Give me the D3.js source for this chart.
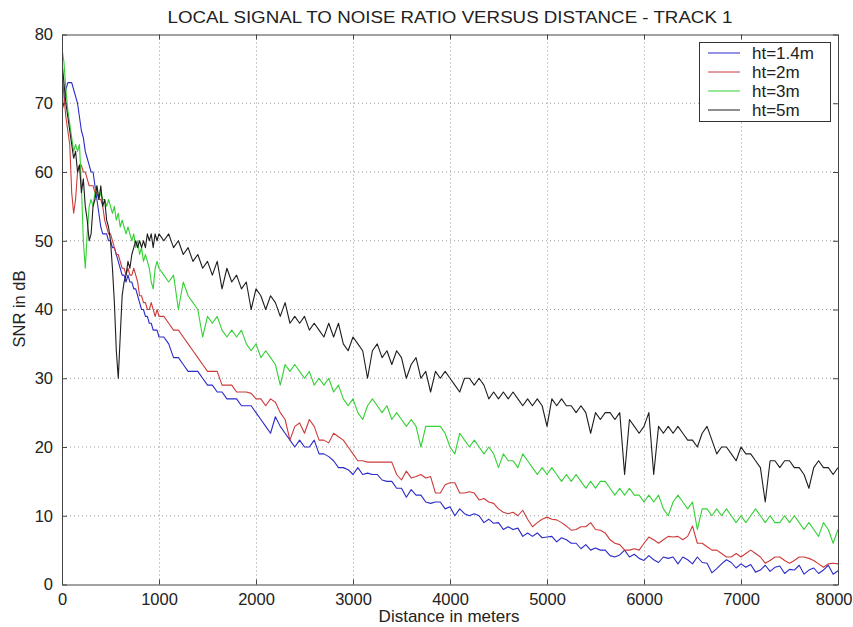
<!DOCTYPE html>
<html>
<head>
<meta charset="utf-8">
<script src="https://cdn.jsdelivr.net/npm/d3@7"></script>
<style>
  body { margin: 0; background: #fff; }
  svg { display: block; font-family: "Liberation Sans", Arial, Helvetica, sans-serif; }
  .grid line { stroke: #9a9a9a; stroke-dasharray: 1,3; }
  .axis path, .axis line { stroke: #444; }
  .axis text { font-size: 16.5px; fill: #222; }
  .legend text { font-size: 17px; fill: #222; }
</style>
</head>
<body>
<div id="chart"></div>
<script>
// distance along the track (m) - denser sampling over the first kilometre
const distance = [
  0, 20, 40, 60, 80, 100, 120, 140, 160, 180,
  200, 220, 240, 260, 280, 300, 320, 340, 360, 380,
  400, 420, 440, 460, 480, 500, 520, 540, 560, 580,
  600, 620, 640, 660, 680, 700, 720, 740, 760, 780,
  800, 820, 840, 860, 880, 900, 920, 940, 960, 980,
  1000,
  1050, 1100, 1150, 1200, 1250, 1300, 1350, 1400, 1450, 1500,
  1550, 1600, 1650, 1700, 1750, 1800, 1850, 1900, 1950, 2000,
  2050, 2100, 2150, 2200, 2250, 2300, 2350, 2400, 2450, 2500,
  2550, 2600, 2650, 2700, 2750, 2800, 2850, 2900, 2950, 3000,
  3050, 3100, 3150, 3200, 3250, 3300, 3350, 3400, 3450, 3500,
  3550, 3600, 3650, 3700, 3750, 3800, 3850, 3900, 3950, 4000,
  4050, 4100, 4150, 4200, 4250, 4300, 4350, 4400, 4450, 4500,
  4550, 4600, 4650, 4700, 4750, 4800, 4850, 4900, 4950, 5000,
  5050, 5100, 5150, 5200, 5250, 5300, 5350, 5400, 5450, 5500,
  5550, 5600, 5650, 5700, 5750, 5800, 5850, 5900, 5950, 6000,
  6050, 6100, 6150, 6200, 6250, 6300, 6350, 6400, 6450, 6500,
  6550, 6600, 6650, 6700, 6750, 6800, 6850, 6900, 6950, 7000,
  7050, 7100, 7150, 7200, 7250, 7300, 7350, 7400, 7450, 7500,
  7550, 7600, 7650, 7700, 7750, 7800, 7850, 7900, 7950, 8000
];

// SNR (dB), antenna height 1.4 m
const snr14 = [
  69, 70, 72, 73, 73, 73, 72, 71, 70, 68,
  66, 65, 63, 62, 61, 60, 60, 58, 56, 54,
  52, 51, 51, 51, 50, 50, 49, 49, 48, 47,
  46, 45, 45, 44, 45, 44, 44, 43, 43, 42,
  41, 40, 40, 39, 39, 38, 38, 37, 37, 37,
  36,
  36, 35, 33, 33, 32, 31, 31, 31, 30, 29,
  29, 28, 28, 27, 27, 27, 26, 26, 26, 25,
  24, 23, 22, 24.4, 23, 22, 21, 20, 21, 20,
  20, 21, 19, 19, 18.6, 18, 17, 17, 16.7, 16,
  17, 16, 16.2, 16, 16, 15.2, 15, 15, 14, 14,
  12.7, 13.8, 13, 13, 12, 11.8, 12, 12, 11, 11.3,
  10, 11, 10.3, 10, 10.3, 10, 9, 9.5, 8.9, 9,
  8, 8.4, 8, 8.2, 7, 7.5, 7, 7.5, 6.8, 6.9,
  7, 6.2, 6.8, 6.5, 6, 6, 5.2, 5.8, 5, 5.3,
  5, 5, 4.2, 4, 4.3, 5, 4, 4.4, 3.8, 3.5,
  4.2, 3.6, 3.2, 4, 3.8, 4, 3, 4, 3.6, 3,
  4, 3.2, 3.1, 1.7, 2.3, 3, 3.6, 3.2, 2.4, 3,
  2.5, 2.9, 1.8, 2.1, 2.8, 1.9, 2.5, 2.7, 1.6, 2.2,
  2.1, 2.8, 1.5, 2.1, 2.4, 1.6, 2.1, 2.8, 1.5, 2
];

// SNR (dB), antenna height 2 m
const snr2 = [
  75, 71, 68, 66, 64, 57, 54, 56, 60, 61,
  61, 60, 60, 59, 58, 58, 58, 57, 57, 56,
  56, 55, 53, 52, 51, 51, 50, 49, 48, 48,
  47, 46, 46, 45, 46, 45, 45, 46, 45, 44,
  42, 42, 41, 41, 40, 40, 41, 40, 39, 40,
  39,
  39, 38, 37, 37, 36, 35, 34, 33, 32, 31,
  31, 31, 29, 29, 29, 28, 28, 28, 27.8, 27,
  27, 26, 27, 26.5, 25, 24, 21, 23, 23.5, 22,
  24, 23, 21, 21, 20.6, 22, 21.5, 21, 20, 19,
  18, 18, 17.8, 17.8, 17.8, 17.8, 17.8, 17.8, 16, 15.2,
  16.5, 15.5, 15.7, 16, 15.5, 15.7, 13.3, 13.3, 14.5, 14.8,
  14.8, 13.3, 13.3, 13.5, 13.3, 12.3, 12.5, 12, 11.8, 11,
  10.5, 10.3, 10.5, 10, 10.8, 9.5, 8.4, 9, 9.5, 9.8,
  9.5, 9.4, 9, 8.5, 7.9, 8, 8.4, 8.4, 9, 8,
  7.9, 7.5, 6.5, 6, 5.8, 5, 5, 5.2, 5, 6,
  6.9, 6.5, 6, 6.5, 7, 6.9, 7, 6.5, 7, 8.5,
  6, 6, 5.5, 5, 5, 4.5, 4, 4, 4.5, 4,
  4.5, 5, 4.5, 4, 3.1, 3.5, 4, 4, 3.5, 3.1,
  3.5, 4, 4, 3.8, 3.5, 3, 2.5, 3, 3.1, 3
];

// SNR (dB), antenna height 3 m
const snr3 = [
  78, 76, 72, 69, 67, 65, 63, 64, 63, 64,
  58, 50, 46, 51, 55, 56, 55, 57, 58, 56,
  57, 56, 56, 55, 56, 55, 54, 55, 53, 54,
  52, 53, 52, 51, 52, 51, 50, 51, 49, 50,
  48, 49, 47, 48, 47, 46, 44, 43, 46, 47,
  46,
  45, 44, 45, 40, 44, 42, 41, 40, 36, 39,
  38, 39, 37, 36, 37, 36, 37, 35, 34, 35,
  33, 34, 33, 32, 29, 32, 31, 32, 31, 30,
  31, 29, 30, 29, 30, 28, 29, 27, 26, 27,
  25, 24, 26, 27, 26, 25, 26, 24, 25, 24,
  23, 24, 23, 20, 23, 23, 23, 23, 22, 20,
  19, 22, 21, 20, 21, 20, 19, 20, 19, 17,
  19, 18, 18, 17, 19, 18, 17, 16, 17, 16,
  17, 16, 15, 16, 15, 16, 15, 14, 15, 14,
  15, 15, 14, 13, 14, 13, 14, 13, 13, 12,
  13, 12, 13, 11, 10, 12, 13, 12, 11, 12,
  8, 11, 11, 10, 11, 10, 11, 10, 9, 10,
  9, 10, 11, 10, 9, 10, 9, 9, 10, 9,
  10, 9, 8, 9, 8, 7, 9, 8, 6, 8
];

// SNR (dB), antenna height 5 m
const snr5 = [
  76, 73, 70, 68, 66, 64, 62, 63, 60, 61,
  57, 59, 55, 53, 50, 51, 55, 56, 58, 56,
  58, 55, 56, 53, 52, 50, 46, 41, 34, 30,
  36, 42, 44, 45, 47, 46, 48, 49, 50, 49,
  50, 49, 50, 49, 51, 50, 51, 49, 51, 50,
  51,
  50, 51, 49, 50, 48, 49, 47, 48, 46, 47,
  45, 47, 43, 46, 44, 45, 43, 44, 40, 43,
  42, 40, 42, 41, 39, 41, 38, 39, 38, 39,
  37, 38, 37, 36, 38, 36, 38, 35, 34, 36,
  35, 34, 30, 34, 35, 33, 34, 32, 34, 33,
  30, 32, 33, 30, 31, 28, 31, 30, 31, 30,
  29, 28, 30, 30, 29, 30, 29, 27, 28, 27,
  28, 27, 28, 27, 26, 27, 26, 27, 26, 23,
  27, 26, 27, 26, 26, 25, 26, 25, 22, 25,
  24, 25, 25, 24, 25, 16, 24, 23, 22, 23,
  25, 16, 23, 22, 23, 22, 23, 22, 21, 21,
  20, 22, 23, 21, 19, 20, 20, 19, 18, 20,
  19, 19, 18, 17, 12, 18, 18, 17, 18, 18,
  17, 17, 16, 14, 17, 18, 17, 17, 16, 17
];

const seriesNames = ['ht=1.4m', 'ht=2m', 'ht=3m', 'ht=5m'];
const seriesColors = ['#2a2ac8', '#cc3a3a', '#33d133', '#1e1e1e'];
const xTicks = [0, 1000, 2000, 3000, 4000, 5000, 6000, 7000, 8000];
const yTicks = [0, 10, 20, 30, 40, 50, 60, 70, 80];

const width = 853;
const height = 627;
const plot = { left: 62, right: 838, top: 34.5, bottom: 584.5 };

const svg = d3.select('#chart').append('svg')
  .attr('width', width)
  .attr('height', height);

const x = d3.scaleLinear().domain([0, 8000]).range([plot.left, plot.right]);
const y = d3.scaleLinear().domain([0, 80]).range([plot.bottom, plot.top]);

// grid
const grid = svg.append('g').attr('class', 'grid');
grid.selectAll('line.v').data(xTicks.slice(1, -1)).enter().append('line')
  .attr('class', 'v')
  .attr('x1', d => x(d) + 0.5).attr('x2', d => x(d) + 0.5)
  .attr('y1', plot.top).attr('y2', plot.bottom);
grid.selectAll('line.h').data(yTicks.slice(1, -1)).enter().append('line')
  .attr('class', 'h')
  .attr('x1', plot.left).attr('x2', plot.right)
  .attr('y1', d => y(d)).attr('y2', d => y(d));

// lines
svg.append('clipPath').attr('id', 'plot-clip').append('rect')
  .attr('x', plot.left).attr('y', plot.top)
  .attr('width', plot.right - plot.left).attr('height', plot.bottom - plot.top);

const allSeries = [snr14, snr2, snr3, snr5];
const line = d3.line()
  .x(d => x(d[0]))
  .y(d => y(d[1]));

const lines = svg.append('g').attr('clip-path', 'url(#plot-clip)');
allSeries.forEach((vals, i) => {
  const pts = d3.zip(distance, vals);
  lines.append('path')
    .datum(pts)
    .attr('fill', 'none')
    .attr('stroke', seriesColors[i])
    .attr('stroke-width', 1.1)
    .attr('stroke-linejoin', 'round')
    .attr('d', line);
});

// axes (ticks point inward, box on all sides)
const xAxis = svg.append('g').attr('class', 'axis')
  .attr('transform', `translate(0,${plot.bottom})`)
  .call(d3.axisBottom(x).tickValues(xTicks).tickFormat(d3.format('d'))
    .tickSize(-5).tickSizeOuter(0).tickPadding(9));
// last label sits on the window edge; keep it fully visible
xAxis.selectAll('text').filter(d => d === 8000)
  .attr('text-anchor', 'end').attr('x', width - 1 - plot.right);

svg.append('g').attr('class', 'axis')
  .attr('transform', `translate(0,${plot.top})`)
  .call(d3.axisTop(x).tickValues(xTicks).tickSize(-5).tickSizeOuter(0).tickFormat(''));
svg.append('g').attr('class', 'axis')
  .attr('transform', `translate(${plot.left},0)`)
  .call(d3.axisLeft(y).tickValues(yTicks).tickSize(-5).tickSizeOuter(0).tickPadding(9));
svg.append('g').attr('class', 'axis')
  .attr('transform', `translate(${plot.right},0)`)
  .call(d3.axisRight(y).tickValues(yTicks).tickSize(-5).tickSizeOuter(0).tickFormat(''));

// titles
svg.append('text')
  .attr('x', 450).attr('y', 23)
  .attr('text-anchor', 'middle')
  .attr('font-size', 16)
  .attr('fill', '#222')
  .attr('textLength', 565)
  .attr('lengthAdjust', 'spacingAndGlyphs')
  .text('LOCAL SIGNAL TO NOISE RATIO VERSUS DISTANCE - TRACK 1');

svg.append('text')
  .attr('x', 449).attr('y', 622)
  .attr('text-anchor', 'middle')
  .attr('font-size', 17)
  .attr('fill', '#222')
  .text('Distance in meters');

svg.append('text')
  .attr('transform', 'translate(25,309) rotate(-90)')
  .attr('text-anchor', 'middle')
  .attr('font-size', 16.5)
  .attr('fill', '#222')
  .text('SNR in dB');

// legend
const legend = svg.append('g').attr('class', 'legend');
legend.append('rect')
  .attr('x', 699.5).attr('y', 42.5)
  .attr('width', 131).attr('height', 79)
  .attr('fill', '#fff')
  .attr('stroke', '#333');
const rowY = d3.scalePoint().domain(seriesNames).range([53, 110]);
seriesNames.forEach((name, i) => {
  legend.append('line')
    .attr('x1', 708).attr('x2', 740)
    .attr('y1', rowY(name)).attr('y2', rowY(name))
    .attr('stroke', seriesColors[i]);
  legend.append('text')
    .attr('x', 752).attr('y', rowY(name))
    .attr('dy', '0.35em')
    .text(name);
});
</script>
</body>
</html>
